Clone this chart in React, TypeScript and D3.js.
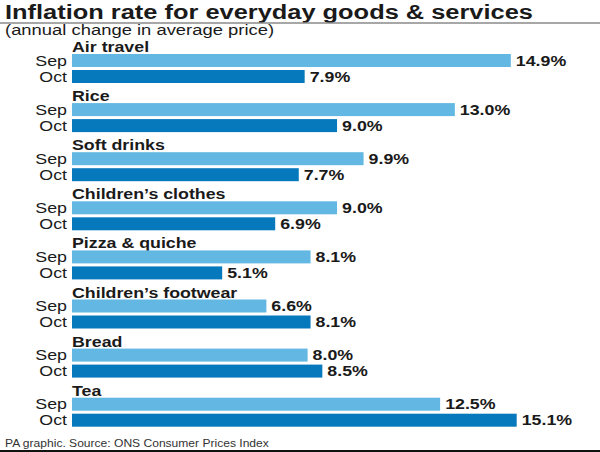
import React from "react";
import * as d3 from "d3";

const categories = [
  "Air travel",
  "Rice",
  "Soft drinks",
  "Children\u2019s clothes",
  "Pizza & quiche",
  "Children\u2019s footwear",
  "Bread",
  "Tea",
];
const sepValues = [14.9, 13.0, 9.9, 9.0, 8.1, 6.6, 8.0, 12.5];
const octValues = [7.9, 9.0, 7.7, 6.9, 5.1, 8.1, 8.5, 15.1];
const seriesLabels = ["Sep", "Oct"];
const seriesColors = ["#62b7e3", "#0679bd"];

const W = 600;
const H = 452;
const FONT = "'Liberation Sans', Arial, Helvetica, sans-serif";

type TProps = {
  x: number;
  y: number;
  sx: number;
  size: number;
  bold?: boolean;
  anchor?: "start" | "end";
  fill?: string;
  children: React.ReactNode;
};

function T({ x, y, sx, size, bold, anchor = "start", fill = "#1a1a1a", children }: TProps) {
  return (
    <text
      transform={`translate(${x},${y}) scale(${sx},1)`}
      fontSize={size}
      fontWeight={bold ? "bold" : "normal"}
      textAnchor={anchor}
      fill={fill}
    >
      {children}
    </text>
  );
}

export default function App() {
  const x = d3.scaleLinear().domain([0, 15]).range([72, 72 + 441.75]);
  const y = d3
    .scaleBand<string>()
    .domain(categories)
    .range([40, 40 + 8 * 49.1]);
  const barH = 13;
  const offsets = [14, 30];
  const series = [sepValues, octValues];
  const SX = 1.27;

  return (
    <svg
      width={W}
      height={H}
      style={{ position: "absolute", left: 0, top: 0, background: "#fff" }}
      fontFamily={FONT}
    >
      <rect x={0} y={0} width={W} height={H} fill="#fff" />
      <T x={5} y={18.5} sx={1.27} size={20} bold>
        Inflation rate for everyday goods &amp; services
      </T>
      <line x1={0} x2={W} y1={23} y2={23} stroke="#8a8a8a" strokeWidth={1.5} />
      <T x={5} y={34.5} sx={1.27} size={14.5}>
        (annual change in average price)
      </T>
      {categories.map((c, i) => {
        const top = y(c)!;
        return (
          <g key={c}>
            <T x={72} y={top + 12} sx={SX} size={14} bold>
              {c}
            </T>
            {series.map((vals, s) => {
              const by = top + offsets[s];
              const v = vals[i];
              return (
                <g key={s}>
                  <T x={67} y={by + barH / 2 + 5} sx={SX} size={14} anchor="end">
                    {seriesLabels[s]}
                  </T>
                  <rect
                    x={x(0)}
                    y={by}
                    width={x(v) - x(0)}
                    height={barH}
                    fill={seriesColors[s]}
                  />
                  <T x={x(v) + 5} y={by + barH / 2 + 5} sx={SX} size={14} bold>
                    {v.toFixed(1)}%
                  </T>
                </g>
              );
            })}
          </g>
        );
      })}
      <T x={5} y={447} sx={1.15} size={10.5} fill="#333">
        PA graphic. Source: ONS Consumer Prices Index
      </T>
      <rect x={0} y={450} width={W} height={2} fill="#111" />
    </svg>
  );
}
